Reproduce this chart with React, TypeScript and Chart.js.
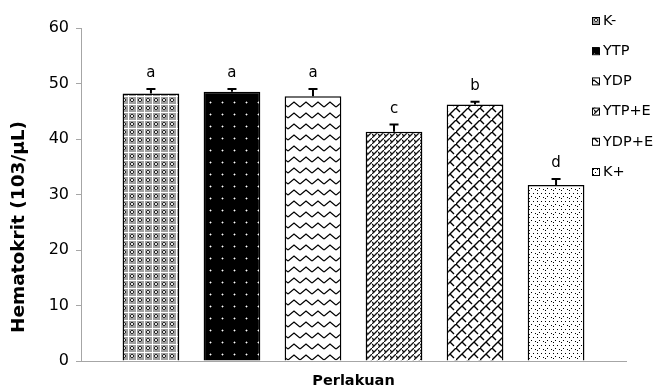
import React, { useEffect, useRef } from 'react';
import { Chart, registerables } from 'chart.js';

Chart.register(...registerables);

const categories = [''];
const seriesNames = ['K-', 'YTP', 'YDP', 'YTP+E', 'YDP+E', 'K+'];
const seriesValues = [48.2, 48.5, 47.7, 41.3, 46.2, 31.7];
const seriesErrors = [0.8, 0.5, 1.3, 1.3, 0.5, 1.1];
const seriesLetters = ['a', 'a', 'a', 'c', 'b', 'd'];
const yTickMin = 0;
const yTickMax = 60;
const yTickStep = 10;
const xTitle = 'Perlakuan';
const yTitle = 'Hematokrit (103/µL)';

const FONT = '"DejaVu Sans", Verdana, sans-serif';

function makeTile(w: number, h: number, draw: (c: CanvasRenderingContext2D) => void): CanvasPattern {
  const cv = document.createElement('canvas');
  cv.width = w;
  cv.height = h;
  const c = cv.getContext('2d')!;
  draw(c);
  return c.createPattern(cv, 'repeat')!;
}

function buildPatterns(): CanvasPattern[] {
  // K- : gray weave
  const p0 = makeTile(8, 8, (c) => {
    c.fillStyle = '#a0a0a0';
    c.fillRect(0, 0, 8, 8);
    c.fillStyle = '#ffffff';
    c.fillRect(0, 0, 8, 1);
    c.fillRect(0, 0, 1, 8);
    c.fillStyle = '#e6e6e6';
    c.fillRect(3, 3, 2, 2);
    c.fillStyle = '#2a2a2a';
    c.fillRect(3, 2, 2, 1);
    c.fillRect(3, 5, 2, 1);
    c.fillRect(2, 3, 1, 2);
    c.fillRect(5, 3, 1, 2);
  });
  // YTP : black with white dots
  const p1 = makeTile(12, 12, (c) => {
    c.fillStyle = '#000000';
    c.fillRect(0, 0, 12, 12);
    c.fillStyle = '#6a6a6a';
    c.fillRect(5, 6, 3, 1);
    c.fillRect(6, 5, 1, 3);
    c.fillStyle = '#ffffff';
    c.fillRect(6, 6, 1, 1);
  });
  // YDP : zigzag
  const p2 = makeTile(12, 11, (c) => {
    c.fillStyle = '#ffffff';
    c.fillRect(0, 0, 12, 11);
    c.strokeStyle = '#000000';
    c.lineWidth = 1.3;
    c.beginPath();
    c.moveTo(0, 8);
    c.lineTo(6, 3);
    c.lineTo(12, 8);
    c.stroke();
  });
  // YTP+E : dense diagonal weave
  const p3 = makeTile(6, 6, (c) => {
    c.fillStyle = '#ffffff';
    c.fillRect(0, 0, 6, 6);
    c.strokeStyle = '#111111';
    c.lineWidth = 1.3;
    c.beginPath();
    c.moveTo(-1, 7);
    c.lineTo(7, -1);
    c.moveTo(0, 2);
    c.lineTo(2.5, 4.5);
    c.stroke();
  });
  // YDP+E : trellis
  const p4 = makeTile(12, 12, (c) => {
    c.fillStyle = '#ffffff';
    c.fillRect(0, 0, 12, 12);
    c.strokeStyle = '#000000';
    c.lineWidth = 1.4;
    c.beginPath();
    c.moveTo(-2, 14);
    c.lineTo(14, -2);
    c.moveTo(6, 6);
    c.lineTo(10, 10);
    c.moveTo(0, 0);
    c.lineTo(4, 4);
    c.stroke();
  });
  // K+ : sparse dots
  const p5 = makeTile(8, 8, (c) => {
    c.fillStyle = '#ffffff';
    c.fillRect(0, 0, 8, 8);
    c.fillStyle = '#000000';
    c.fillRect(1, 1, 1, 1);
    c.fillRect(5, 1, 1, 1);
    c.fillRect(3, 4, 1, 1);
    c.fillRect(7, 5, 1, 1);
    c.fillRect(1, 6, 1, 1);
  });
  return [p0, p1, p2, p3, p4, p5];
}

export default function App() {
  const ref = useRef<HTMLCanvasElement | null>(null);

  useEffect(() => {
    if (!ref.current) return;
    const patterns = buildPatterns();

    const overlay = {
      id: 'overlay',
      afterDatasetsDraw(chart: any) {
        const ctx: CanvasRenderingContext2D = chart.ctx;
        const y = chart.scales.y;
        chart.data.datasets.forEach((_ds: any, i: number) => {
          const meta = chart.getDatasetMeta(i);
          const bar = meta.data[0];
          if (!bar) return;
          const base = y.getPixelForValue(seriesValues[i]);
          const top = y.getPixelForValue(seriesValues[i] + seriesErrors[i]);
          ctx.save();
          ctx.strokeStyle = '#000';
          ctx.lineWidth = 2;
          ctx.beginPath();
          ctx.moveTo(bar.x, base);
          ctx.lineTo(bar.x, top);
          ctx.moveTo(bar.x - 4.5, top);
          ctx.lineTo(bar.x + 4.5, top);
          ctx.stroke();
          ctx.fillStyle = '#000';
          ctx.font = '15px ' + FONT;
          ctx.textAlign = 'center';
          ctx.textBaseline = 'alphabetic';
          ctx.fillText(seriesLetters[i], bar.x, top - 12);
          ctx.restore();
        });
      },
      afterDraw(chart: any) {
        const ctx: CanvasRenderingContext2D = chart.ctx;
        ctx.save();
        // legend
        seriesNames.forEach((name, i) => {
          const cy = 21 + i * 30.2;
          ctx.fillStyle = patterns[i];
          ctx.fillRect(592, cy - 4, 7, 7);
          ctx.strokeStyle = '#000';
          ctx.lineWidth = 1;
          ctx.strokeRect(592.5, cy - 3.5, 7, 7);
          ctx.fillStyle = '#000';
          ctx.font = '14.5px ' + FONT;
          ctx.textAlign = 'left';
          ctx.textBaseline = 'middle';
          ctx.fillText(name, 603, cy);
        });
        // axis titles
        ctx.fillStyle = '#000';
        ctx.textAlign = 'center';
        ctx.textBaseline = 'middle';
        ctx.font = 'bold 14.5px ' + FONT;
        ctx.fillText(xTitle, (chart.chartArea.left + chart.chartArea.right) / 2, 381);
        ctx.font = 'bold 18.5px ' + FONT;
        ctx.translate(19, 227);
        ctx.rotate(-Math.PI / 2);
        ctx.fillText(yTitle, 0, 0);
        ctx.restore();
      },
    };

    const chart = new Chart(ref.current, {
      type: 'bar',
      data: {
        labels: categories,
        datasets: seriesNames.map((name, i) => ({
          label: name,
          data: [seriesValues[i]],
          backgroundColor: patterns[i] as any,
          borderColor: '#000000',
          borderWidth: 1.5,
          categoryPercentage: 0.892,
          barPercentage: 0.7,
        })),
      },
      options: {
        animation: false,
        responsive: false,
        maintainAspectRatio: false,
        layout: { padding: { left: 0, right: 31, top: 28, bottom: 0 } },
        plugins: {
          legend: { display: false },
          tooltip: { enabled: false },
          title: { display: false },
        },
        scales: {
          x: {
            grid: { display: false },
            border: { color: '#a6a6a6', width: 1 },
            ticks: { display: false },
            afterFit: (s: any) => {
              s.height = 29;
            },
          },
          y: {
            min: yTickMin,
            max: yTickMax,
            ticks: {
              stepSize: yTickStep,
              color: '#000',
              padding: 7,
              font: { family: FONT, size: 16 },
            },
            grid: {
              drawOnChartArea: false,
              drawTicks: true,
              tickLength: 5,
              color: '#a6a6a6',
            },
            border: { color: '#a6a6a6', width: 1 },
            afterFit: (s: any) => {
              s.width = 81;
            },
          },
        },
      },
      plugins: [overlay],
    });

    return () => {
      chart.destroy();
    };
  }, []);

  return (
    <div style={{ position: 'fixed', left: 0, top: 0, width: 657, height: 390, background: '#fff' }}>
      <canvas ref={ref} width={657} height={390} style={{ width: 657, height: 390, display: 'block' }} />
    </div>
  );
}
